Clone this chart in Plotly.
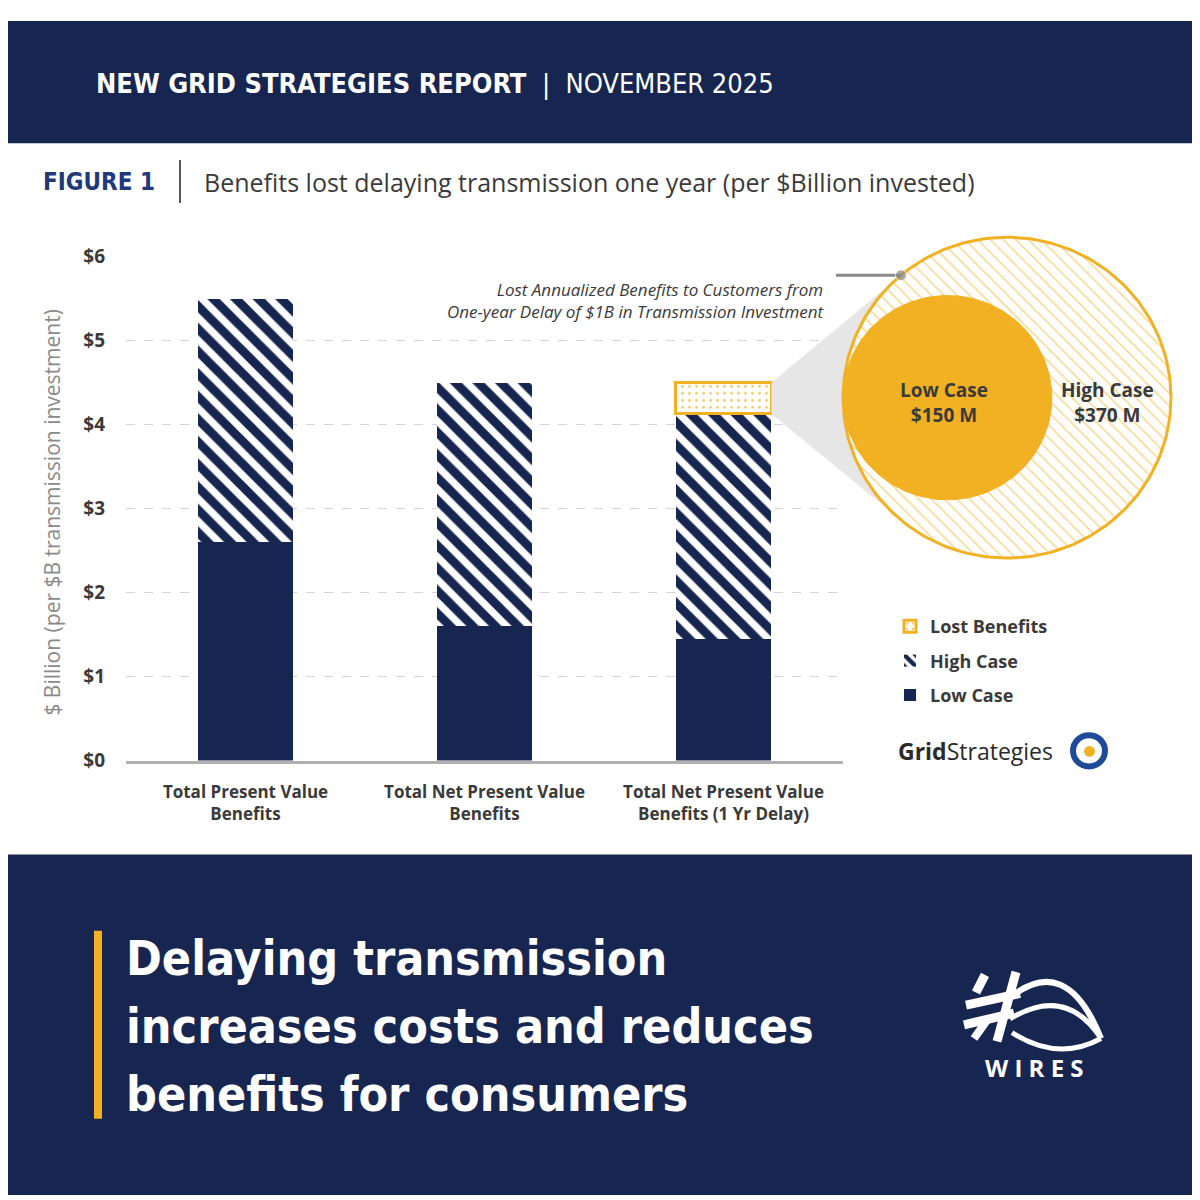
import numpy as np
import plotly.graph_objects as go

# --- données ---
categories = [
    "Total Present Value<br>Benefits",
    "Total Net Present Value<br>Benefits",
    "Total Net Present Value<br>Benefits (1 Yr Delay)",
]
low_case = [2.60, 1.60, 1.45]
high_case = [2.90, 2.90, 2.68]
lost_benefits = [None, None, 0.37]
y_ticks = [0, 1, 2, 3, 4, 5, 6]
y_tick_labels = ["$0", "$1", "$2", "$3", "$4", "$5", "$6"]

# encart : pertes annuelles (M$) pour un an de retard
lost_low_m = 150
lost_high_m = 370

headline = ["Delaying transmission", "increases costs and reduces", "benefits for consumers"]

# --- couleurs / géométrie ---
NAVY = "#172650"
GOLD = "#f2b123"
DARK = "#3a3a3a"
W = H = 1200
PLOT_L, PLOT_R = 118, 835
PLOT_T, PLOT_B = 241, 756
Y_MAX = 6
BAR_FRAC = 0.4
CONDENSED = "Liberation Sans Narrow, DejaVu Sans Condensed, sans-serif"
SANS = "Open Sans, Noto Sans, sans-serif"


def py(v):
    return PLOT_B - v / Y_MAX * (PLOT_B - PLOT_T)


def bar_right(i):
    band = (PLOT_R - PLOT_L) / len(categories)
    return PLOT_L + band * (i + 0.5) + band * BAR_FRAC / 2


fig = go.Figure()

fig.add_trace(go.Bar(
    name="Low Case", x=categories, y=low_case, legendgroup="low", legendrank=3,
    marker=dict(color=NAVY, line=dict(width=0)),
))
fig.add_trace(go.Bar(
    name="High Case", x=categories, y=high_case, legendgroup="high", legendrank=2,
    marker=dict(color="white", line=dict(width=0),
                pattern=dict(shape="\\", fgcolor=NAVY, bgcolor="white", fgopacity=1,
                             fillmode="replace", size=16, solidity=0.55)),
))
fig.add_trace(go.Bar(
    name="Lost Benefits", x=categories, y=lost_benefits, legendgroup="lost", legendrank=1,
    marker=dict(color="white", line=dict(width=3, color=GOLD),
                pattern=dict(shape=".", fgcolor=GOLD, bgcolor="white", fgopacity=0.8,
                             size=7, solidity=0.12)),
))

# --- encart cercles (coordonnées pixel sur axes x2/y2) ---
scale = 164 / np.sqrt(max(lost_low_m, lost_high_m))
r_out = scale * np.sqrt(lost_high_m)
r_in = scale * np.sqrt(lost_low_m)
cx, cy = 999, 385
cx_in = cx - (r_out - r_in)

k = 2
top_v = low_case[k] + high_case[k] + lost_benefits[k]
bot_v = low_case[k] + high_case[k]
p1 = np.array([bar_right(k), py(top_v)])
p2 = np.array([bar_right(k), py(bot_v)])


def tangent(p, sign):
    c = np.array([cx, cy])
    d = p - c
    dist = np.hypot(*d)
    a = np.arctan2(d[1], d[0]) + sign * np.arccos(r_out / dist)
    return c + r_out * np.array([np.cos(a), np.sin(a)])


t1 = tangent(p1, 1)
t2 = tangent(p2, -1)
fig.add_trace(go.Scatter(
    x=[p1[0], t1[0], cx, t2[0], p2[0]], y=[p1[1], t1[1], cy, t2[1], p2[1]],
    fill="toself", fillcolor="#e6e6e6", line=dict(width=0), mode="lines",
    xaxis="x2", yaxis="y2", showlegend=False, hoverinfo="skip",
))
th = np.linspace(0, 2 * np.pi, 240)
fig.add_trace(go.Scatter(
    x=cx + r_out * np.cos(th), y=cy + r_out * np.sin(th), mode="lines",
    fill="toself", fillcolor="white",
    fillpattern=dict(shape="\\", fgcolor=GOLD, bgcolor="white", fgopacity=0.55,
                     size=9, solidity=0.16),
    line=dict(color=GOLD, width=3),
    xaxis="x2", yaxis="y2", showlegend=False, hoverinfo="skip",
))
fig.add_trace(go.Scatter(
    x=cx_in + r_in * np.cos(th), y=cy + r_in * np.sin(th), mode="lines",
    fill="toself", fillcolor=GOLD, line=dict(color=GOLD, width=1),
    xaxis="x2", yaxis="y2", showlegend=False, hoverinfo="skip",
))
fig.add_trace(go.Scatter(
    x=[828, t1[0]], y=[t1[1], t1[1]], mode="lines+markers",
    line=dict(color="#8a8a8a", width=3), marker=dict(size=[0, 11], color="#8a8a8a"),
    xaxis="x2", yaxis="y2", showlegend=False, hoverinfo="skip",
))

shapes = [
    dict(type="rect", x0=0, x1=W, y0=0, y1=125, fillcolor=NAVY, line_width=0, layer="below"),
    dict(type="rect", x0=0, x1=W, y0=852, y1=H, fillcolor=NAVY, line_width=0, layer="below"),
    dict(type="line", x0=172, x1=172, y0=142, y1=186, line=dict(color="#555", width=2)),
    dict(type="rect", x0=86, x1=94, y0=930, y1=1122, fillcolor=GOLD, line_width=0),
    # logo Grid Strategies
    dict(type="circle", x0=1065, x1=1097, y0=730, y1=762, line=dict(color="#1f4a9a", width=6)),
    dict(type="circle", x0=1076, x1=1087, y0=741, y1=752, fillcolor=GOLD, line_width=0),
    # logo WIRES (approximatif)
    dict(type="path", path="M 1008 972 L 989 1043", line=dict(color="white", width=9)),
    dict(type="path", path="M 968 993 L 977 975", line=dict(color="white", width=9)),
    dict(type="path", path="M 958 1006 L 1012 994", line=dict(color="white", width=9)),
    dict(type="path", path="M 956 1026 L 1006 1014", line=dict(color="white", width=9)),
    dict(type="path", path="M 966 1040 L 980 1020", line=dict(color="white", width=8)),
    dict(type="path", path="M 1000 1000 Q 1058 950 1093 1040", line=dict(color="white", width=6)),
    dict(type="path", path="M 1002 1020 Q 1058 985 1093 1040", line=dict(color="white", width=5)),
    dict(type="path", path="M 1004 1034 Q 1050 1064 1093 1040", line=dict(color="white", width=5)),
]
for s in shapes:
    s["xref"], s["yref"] = "x2", "y2"

annotations = [
    dict(x=86, y=64, xanchor="left", yanchor="middle",
         text="<b>NEW GRID STRATEGIES REPORT</b>  |  NOVEMBER 2025",
         font=dict(family=CONDENSED, size=27, color="white")),
    dict(x=33, y=165, xanchor="left", yanchor="middle", text="<b>FIGURE 1</b>",
         font=dict(family=CONDENSED, size=24, color="#1e3a78")),
    dict(x=194, y=165, xanchor="left", yanchor="middle",
         text="Benefits lost delaying transmission one year (per $Billion invested)",
         font=dict(family=SANS, size=25, color=DARK)),
    dict(x=44, y=(PLOT_T + PLOT_B) / 2 + 4, textangle=-90, xanchor="center", yanchor="middle",
         text="$ Billion (per $B transmission investment)",
         font=dict(family=SANS, size=21, color="#8a8a8a")),
    dict(x=818, y=286, xanchor="right", yanchor="middle", align="right",
         text="<i>Lost Annualized Benefits to Customers from<br>One-year Delay of $1B in Transmission Investment</i>",
         font=dict(family=SANS, size=17, color=DARK)),
    dict(x=cx_in - 3, y=390, xanchor="center", yanchor="middle",
         text=f"<b>Low Case<br>${lost_low_m} M</b>", font=dict(family=SANS, size=19, color=DARK)),
    dict(x=1099, y=390, xanchor="center", yanchor="middle",
         text=f"<b>High Case<br>${lost_high_m} M</b>", font=dict(family=SANS, size=19, color=DARK)),
    dict(x=888, y=746, xanchor="left", yanchor="middle",
         text="<b>Grid</b>Strategies", font=dict(family=SANS, size=23, color="#2a2a2a")),
    dict(x=1026, y=1070, xanchor="center", yanchor="middle", text="<b>W I R E S</b>",
         font=dict(family=SANS, size=24, color="white")),
]
for i, line in enumerate(headline):
    annotations.append(dict(x=116, y=958 + 69.5 * i, xanchor="left", yanchor="middle",
                            text=f"<b>{line}</b>",
                            font=dict(family=CONDENSED, size=48, color="white")))
for a in annotations:
    a["xref"], a["yref"], a["showarrow"] = "x2", "y2", False

fig.update_layout(
    width=W, height=H, margin=dict(l=0, r=0, t=0, b=0),
    paper_bgcolor="white", plot_bgcolor="rgba(0,0,0,0)",
    barmode="stack", bargap=1 - BAR_FRAC,
    showlegend=True,
    legend=dict(x=882 / W, y=1 - 600 / H, xanchor="left", yanchor="top",
                traceorder="grouped", tracegroupgap=8,
                font=dict(family=SANS, size=18, color=DARK, weight="bold"),
                bgcolor="rgba(0,0,0,0)"),
    xaxis=dict(domain=[PLOT_L / W, PLOT_R / W], anchor="y",
               showline=True, linecolor="#b0b0b0", linewidth=3, ticks="",
               tickfont=dict(family=SANS, size=17, color=DARK, weight="bold"),
               ticklabelstandoff=14, showgrid=False),
    yaxis=dict(domain=[1 - PLOT_B / H, 1 - PLOT_T / H], anchor="x", range=[0, Y_MAX],
               tickvals=y_ticks, ticktext=y_tick_labels, showline=False, zeroline=False,
               gridcolor="#d4d4d4", griddash="dash", gridwidth=1,
               tickfont=dict(family=SANS, size=19, color=DARK, weight="bold"),
               ticklabelstandoff=20),
    xaxis2=dict(domain=[0, 1], range=[0, W], visible=False, anchor="y2"),
    yaxis2=dict(domain=[0, 1], range=[H, 0], visible=False, anchor="x2"),
    shapes=shapes, annotations=annotations,
)

fig.write_html("out.html")
